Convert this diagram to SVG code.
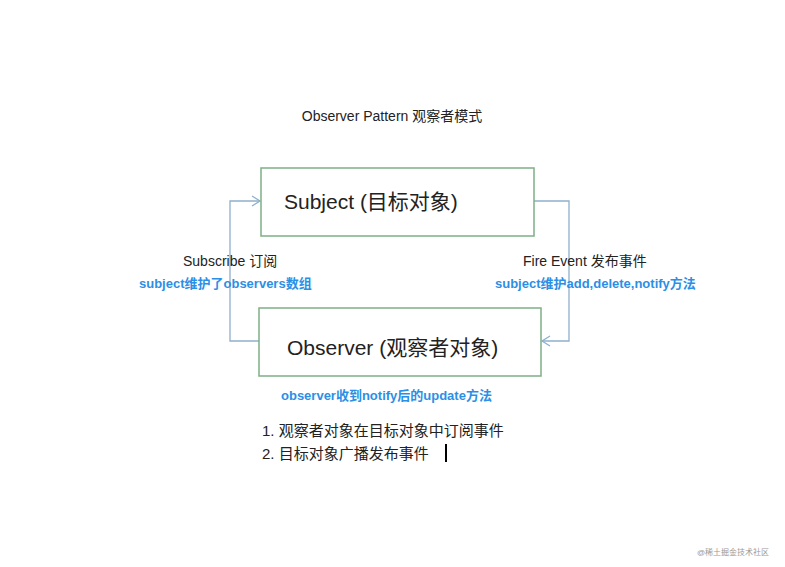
<svg xmlns="http://www.w3.org/2000/svg" width="785" height="567" viewBox="0 0 785 567">
<style>
text{font-family:"Liberation Sans","Noto Sans CJK SC",sans-serif;fill:#222}
.box{fill:#fff;stroke:#7fae86;stroke-width:1.5}
.c{fill:none;stroke:#8fb0cc;stroke-width:1.3}
.b{fill:#2b8fe6;font-weight:bold;font-size:13px}
</style>
<defs><marker id="a" markerWidth="12" markerHeight="12" refX="10" refY="6" orient="auto" markerUnits="userSpaceOnUse"><path d="M2,1 L10,6 L2,11" fill="none" stroke="#8fb0cc" stroke-width="1.3"/></marker></defs>
<rect width="785" height="567" fill="#fff"/>
<text x="392" y="121" font-size="14" text-anchor="middle">Observer Pattern 观察者模式</text>
<g id="connectors">
<path class="c" d="M259,341 H230 V201 H260" marker-end="url(#a)"/>
<path class="c" d="M534,201 H569 V341 H542" marker-end="url(#a)"/>
</g>
<g id="subject"><rect class="box" x="261" y="168" width="273" height="68"/>
<text x="284" y="209" font-size="21">Subject    (目标对象)</text></g>
<g id="observer"><rect class="box" x="259" y="308" width="282" height="68"/>
<text x="287" y="355" font-size="21">Observer (观察者对象)</text></g>
<text x="183" y="266" font-size="14">Subscribe  订阅</text>
<text class="b" x="139" y="288">subject维护了observers数组</text>
<text x="523" y="266" font-size="14">Fire Event  发布事件</text>
<text class="b" x="495" y="288">subject维护add,delete,notify方法</text>
<text class="b" x="281" y="400">observer收到notify后的update方法</text>
<text x="262" y="436" font-size="15">1. 观察者对象在目标对象中订阅事件</text>
<text x="262" y="459" font-size="15">2. 目标对象广播发布事件</text>
<line x1="446" y1="444" x2="446" y2="462" stroke="#000" stroke-width="2"/>
<text x="697" y="555" font-size="8" fill="#999" style="fill:#999">@稀土掘金技术社区</text>
</svg>
